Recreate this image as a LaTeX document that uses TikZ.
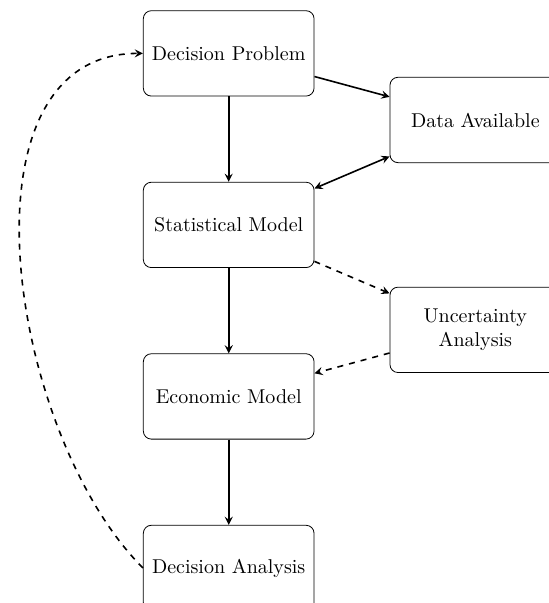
\documentclass[tikz,border=0pt]{standalone}
\usepackage{tikz}
\usetikzlibrary{shapes,arrows,positioning}

\begin{document}
\begin{tikzpicture}[
    node distance=1.5cm,
    box/.style={rectangle, draw, rounded corners, minimum width=3cm, minimum height=1.5cm, align=center},
    arrow/.style={->, >=stealth, thick},
    dasharrow/.style={arrow, dashed}
]
    \useasboundingbox (-114.35pt,26.7pt) rectangle (159.65pt,-274.8pt);

    \node[box] (problem) {Decision Problem};
    \node[box, below=of problem] (statmodel) {Statistical Model};
    \node[box, below=of statmodel] (econmodel) {Economic Model};
    \node[box, below=of econmodel] (analysis) {Decision Analysis};
    \node[box, right=1.32cm of problem, yshift=-1.17cm] (data) {Data Available};
    \node[box, right=1.32cm of econmodel, yshift=1.17cm] (uncert) {Uncertainty\\Analysis};

    \draw[arrow] (problem) -- (statmodel);
    \draw[arrow] (statmodel) -- (econmodel);
    \draw[arrow] (econmodel) -- (analysis);
    \draw[arrow] (problem) -- (data);
    \draw[arrow, <->] (data) -- (statmodel);
    \draw[dasharrow] (statmodel) -- (uncert);
    \draw[dasharrow] (uncert) -- (econmodel);
    \draw[dasharrow] (analysis.west) to[out=135, in=180, looseness=0.95] (problem.west);
\end{tikzpicture}
\end{document}
